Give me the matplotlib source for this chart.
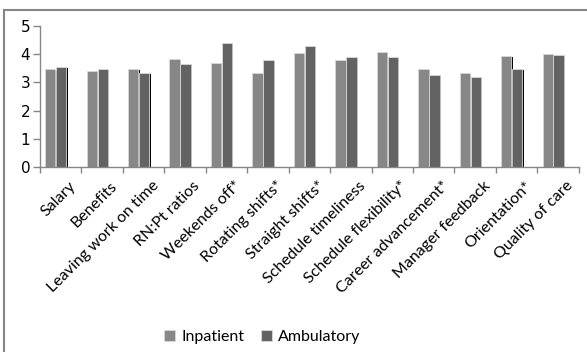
import numpy as np
import matplotlib.pyplot as plt
import matplotlib.transforms as mtransforms
from matplotlib.lines import Line2D

categories = ["Salary", "Benefits", "Leaving work on time", "RN:Pt ratios",
              "Weekends off*", "Rotating shifts*", "Straight shifts*",
              "Schedule timeliness", "Schedule flexibility*",
              "Career advancement*", "Manager feedback", "Orientation*",
              "Quality of care"]
inpatient = [3.46, 3.41, 3.48, 3.81, 3.69, 3.32, 4.02, 3.80, 4.08, 3.48, 3.32, 3.93, 4.00]
ambulatory = [3.54, 3.46, 3.34, 3.65, 4.39, 3.78, 4.29, 3.88, 3.88, 3.26, 3.20, 3.48, 3.95]

fig = plt.figure(figsize=(5.87, 3.52), dpi=100)
ax = fig.add_axes([0.068, 0.525, 0.918, 0.402])

x = np.arange(len(categories))
w = 0.25
pos_in = x - 0.25
pos_amb = x + 0.015

# drop shadows behind each bar
for pos, vals in [(pos_in, inpatient), (pos_amb, ambulatory)]:
    ax.bar(pos + 0.028, np.array(vals) - 0.05, w, color='black', zorder=1)

ax.bar(pos_in, inpatient, w, color='#878787', edgecolor='#d8d8d8',
       linewidth=0.6, label='Inpatient', zorder=2)
ax.bar(pos_amb, ambulatory, w, color='#636363', edgecolor='#d8d8d8',
       linewidth=0.6, label='Ambulatory', zorder=2)

ax.set_xlim(-0.5, len(categories) - 0.5)
ax.set_ylim(0, 5)
ax.set_yticks(range(6))
ax.tick_params(axis='y', labelsize=11, length=5, width=1, color='#868686', pad=2)

ax.set_xticks(x)
ax.set_xticklabels(categories, rotation=45, ha='right', rotation_mode='anchor',
                   family='Lato', fontsize=11.5)
ax.tick_params(axis='x', which='major', length=0, pad=4)
shift = mtransforms.ScaledTranslation(0.08, -0.06, fig.dpi_scale_trans)
for lbl in ax.get_xticklabels():
    lbl.set_transform(lbl.get_transform() + shift)
ax.set_xticks(np.arange(-0.5, len(categories)), minor=True)
ax.tick_params(axis='x', which='minor', length=4, width=1, color='#868686')

for side in ['top', 'right']:
    ax.spines[side].set_visible(False)
for side in ['left', 'bottom']:
    ax.spines[side].set_color('#868686')
    ax.spines[side].set_linewidth(1)

fig.legend(loc='center', bbox_to_anchor=(0.447, 0.043), ncol=2, frameon=False,
           prop={'family': 'Lato', 'size': 11.5}, handlelength=0.7,
           handleheight=0.7, columnspacing=1.0, handletextpad=0.4)

# chart frame (top and left edges)
fig.add_artist(Line2D([0.0068, 1.0], [0.971, 0.971], color='#868686', lw=1.5))
fig.add_artist(Line2D([0.0068, 0.0068], [0.0, 0.971], color='#868686', lw=1.5))

fig.savefig('out.png', dpi=100)
